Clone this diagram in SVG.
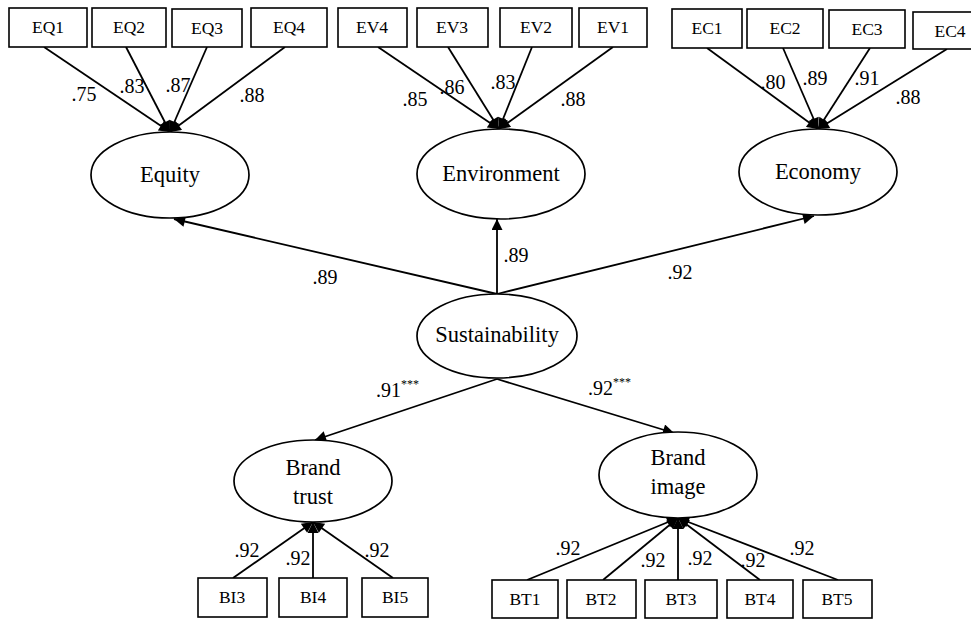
<svg xmlns="http://www.w3.org/2000/svg" width="971" height="621" viewBox="0 0 971 621">
<style>
.box{fill:#fff;stroke:#000;stroke-width:1.6}
.ell{fill:#fff;stroke:#000;stroke-width:1.7}
.ln{stroke:#000;stroke-width:1.8;fill:none;marker-end:url(#ah)}
text{font-family:'Liberation Serif','Times New Roman','DejaVu Serif',serif;fill:#000;text-anchor:middle}
.bt{font-size:17.5px}
.et{font-size:22.5px}
.nt{font-size:20px}
.st{font-size:12px}
.sa{text-anchor:start}
</style>
<defs>
<marker id="ah" viewBox="0 0 10 10" refX="10" refY="5" markerUnits="userSpaceOnUse" markerWidth="13" markerHeight="11" orient="auto">
<path d="M0,0 L10,5 L0,10 z" fill="#000"/>
</marker>
</defs>
<rect width="971" height="621" fill="#fff"/>
<g id="connectors">
<line class="ln" x1="44" y1="47" x2="170" y2="132"/>
<line class="ln" x1="126" y1="47" x2="170" y2="132"/>
<line class="ln" x1="207" y1="47" x2="170" y2="132"/>
<line class="ln" x1="285" y1="47" x2="170" y2="132"/>
<line class="ln" x1="378" y1="47" x2="499" y2="129"/>
<line class="ln" x1="448" y1="47" x2="499" y2="129"/>
<line class="ln" x1="532" y1="47" x2="499" y2="129"/>
<line class="ln" x1="613" y1="47" x2="499" y2="129"/>
<line class="ln" x1="707" y1="48" x2="818" y2="129"/>
<line class="ln" x1="783" y1="48" x2="818" y2="129"/>
<line class="ln" x1="870" y1="48" x2="818" y2="129"/>
<line class="ln" x1="947" y1="49" x2="818" y2="129"/>
<line class="ln" x1="497" y1="294" x2="174" y2="219"/>
<line class="ln" x1="497" y1="294" x2="497" y2="219"/>
<line class="ln" x1="497" y1="294" x2="814" y2="216"/>
<line class="ln" x1="497" y1="379" x2="315" y2="440"/>
<line class="ln" x1="497" y1="379" x2="674" y2="433"/>
<line class="ln" x1="233" y1="578" x2="313" y2="522"/>
<line class="ln" x1="313" y1="578" x2="313" y2="522"/>
<line class="ln" x1="393" y1="578" x2="313" y2="522"/>
<line class="ln" x1="527" y1="580" x2="678" y2="518"/>
<line class="ln" x1="603" y1="580" x2="678" y2="518"/>
<line class="ln" x1="678" y1="580" x2="678" y2="518"/>
<line class="ln" x1="760" y1="580" x2="678" y2="518"/>
<line class="ln" x1="838" y1="580" x2="678" y2="518"/>
</g>
<g id="labels">
<text class="nt" x="84" y="101">.75</text>
<text class="nt" x="132" y="93">.83</text>
<text class="nt" x="178" y="92">.87</text>
<text class="nt" x="252" y="102">.88</text>
<text class="nt" x="415" y="106">.85</text>
<text class="nt" x="452" y="94">.86</text>
<text class="nt" x="503" y="89">.83</text>
<text class="nt" x="573" y="106">.88</text>
<text class="nt" x="773" y="89">.80</text>
<text class="nt" x="815" y="85">.89</text>
<text class="nt" x="867" y="85">.91</text>
<text class="nt" x="908" y="104">.88</text>
<text class="nt" x="325" y="284">.89</text>
<text class="nt" x="516" y="262">.89</text>
<text class="nt" x="680" y="279">.92</text>
<text class="nt sa" x="376" y="397">.91<tspan class="st" dy="-9">***</tspan></text>
<text class="nt sa" x="588" y="395">.92<tspan class="st" dy="-9">***</tspan></text>
<text class="nt" x="247" y="557">.92</text>
<text class="nt" x="298" y="565">.92</text>
<text class="nt" x="377" y="557">.92</text>
<text class="nt" x="568" y="555">.92</text>
<text class="nt" x="653" y="567">.92</text>
<text class="nt" x="700" y="565">.92</text>
<text class="nt" x="753" y="567">.92</text>
<text class="nt" x="802" y="555">.92</text>
</g>
<g id="EQ1"><rect class="box" x="9" y="8" width="78" height="39"/><text class="bt" x="48" y="33">EQ1</text></g>
<g id="EQ2"><rect class="box" x="92" y="8" width="74" height="39"/><text class="bt" x="129" y="33">EQ2</text></g>
<g id="EQ3"><rect class="box" x="172" y="9" width="70" height="38"/><text class="bt" x="207" y="34">EQ3</text></g>
<g id="EQ4"><rect class="box" x="251" y="8" width="76" height="39"/><text class="bt" x="289" y="33">EQ4</text></g>
<g id="EV4"><rect class="box" x="338" y="8" width="69" height="39"/><text class="bt" x="372" y="33">EV4</text></g>
<g id="EV3"><rect class="box" x="417" y="8" width="71" height="39"/><text class="bt" x="452" y="33">EV3</text></g>
<g id="EV2"><rect class="box" x="500" y="8" width="72" height="39"/><text class="bt" x="536" y="33">EV2</text></g>
<g id="EV1"><rect class="box" x="579" y="8" width="68" height="39"/><text class="bt" x="613" y="33">EV1</text></g>
<g id="EC1"><rect class="box" x="672" y="9" width="70" height="39"/><text class="bt" x="707" y="34">EC1</text></g>
<g id="EC2"><rect class="box" x="747" y="9" width="76" height="39"/><text class="bt" x="785" y="34">EC2</text></g>
<g id="EC3"><rect class="box" x="829" y="10" width="76" height="38"/><text class="bt" x="867" y="35">EC3</text></g>
<g id="EC4"><rect class="box" x="913" y="12" width="74" height="37"/><text class="bt" x="950" y="37">EC4</text></g>
<g id="Equity"><ellipse class="ell" cx="170" cy="175" rx="79" ry="43"/><text class="et" x="170" y="182">Equity</text></g>
<g id="Environment"><ellipse class="ell" cx="501" cy="174" rx="84" ry="45"/><text class="et" x="501" y="181">Environment</text></g>
<g id="Economy"><ellipse class="ell" cx="818" cy="172" rx="79" ry="43"/><text class="et" x="818" y="179">Economy</text></g>
<g id="Sustainability"><ellipse class="ell" cx="497" cy="336" rx="80" ry="42"/><text class="et" x="497" y="342">Sustainability</text></g>
<g id="BrandTrust"><ellipse class="ell" cx="313" cy="481" rx="79" ry="41"/><text class="et" x="313" y="475">Brand</text><text class="et" x="313" y="504">trust</text></g>
<g id="BrandImage"><ellipse class="ell" cx="678" cy="475" rx="79" ry="43"/><text class="et" x="678" y="465">Brand</text><text class="et" x="678" y="494">image</text></g>
<g id="BI3"><rect class="box" x="198" y="578" width="69" height="39"/><text class="bt" x="232" y="603">BI3</text></g>
<g id="BI4"><rect class="box" x="279" y="578" width="68" height="39"/><text class="bt" x="313" y="603">BI4</text></g>
<g id="BI5"><rect class="box" x="362" y="578" width="66" height="39"/><text class="bt" x="395" y="603">BI5</text></g>
<g id="BT1"><rect class="box" x="492" y="580" width="66" height="38"/><text class="bt" x="525" y="605">BT1</text></g>
<g id="BT2"><rect class="box" x="567" y="580" width="69" height="38"/><text class="bt" x="601" y="605">BT2</text></g>
<g id="BT3"><rect class="box" x="645" y="580" width="72" height="38"/><text class="bt" x="681" y="605">BT3</text></g>
<g id="BT4"><rect class="box" x="727" y="580" width="66" height="38"/><text class="bt" x="760" y="605">BT4</text></g>
<g id="BT5"><rect class="box" x="803" y="580" width="69" height="38"/><text class="bt" x="837" y="605">BT5</text></g>
</svg>
